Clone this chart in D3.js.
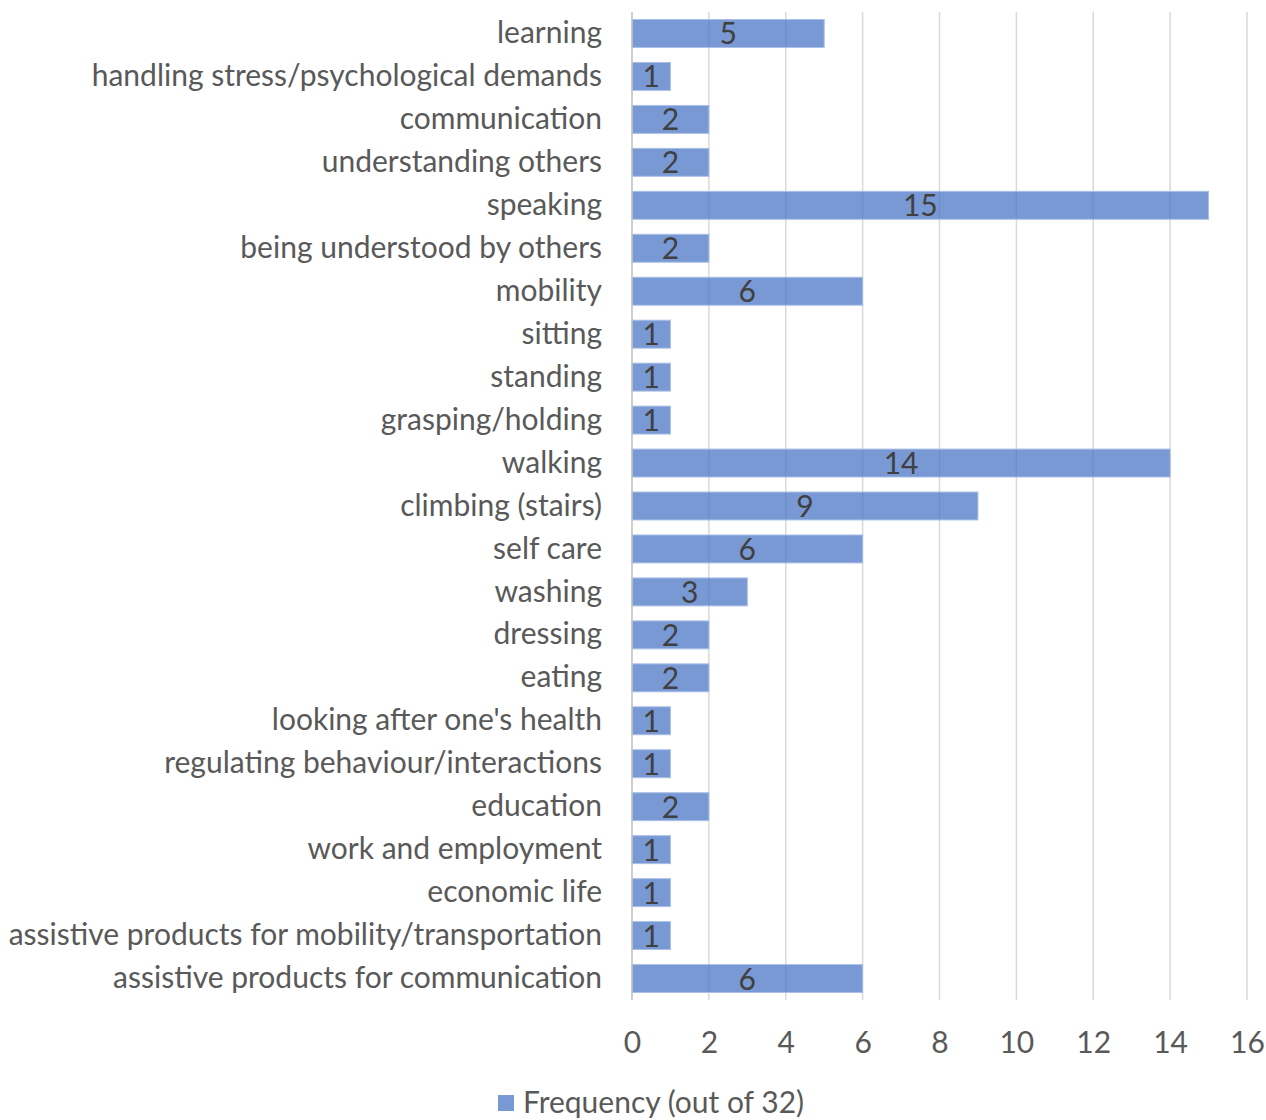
<!DOCTYPE html>
<html>
<head>
<meta charset="utf-8">
<script src="https://cdn.jsdelivr.net/npm/d3@7"></script>
<style>
  body { margin: 0; background: #fff; }
  text { font-family: Lato, "Open Sans", sans-serif; }
</style>
</head>
<body>
<script>
var categories = ["learning", "handling stress/psychological demands", "communication",
  "understanding others", "speaking", "being understood by others", "mobility", "sitting",
  "standing", "grasping/holding", "walking", "climbing (stairs)", "self care", "washing",
  "dressing", "eating", "looking after one's health", "regulating behaviour/interactions",
  "education", "work and employment", "economic life",
  "assistive products for mobility/transportation", "assistive products for communication"];
var frequency = [5, 1, 2, 2, 15, 2, 6, 1, 1, 1, 14, 9, 6, 3, 2, 2, 1, 1, 2, 1, 1, 1, 6];
var xTicks = [0, 2, 4, 6, 8, 10, 12, 14, 16];
var seriesName = "Frequency (out of 32)";

var width = 1266, height = 1120;
var plotLeft = 632, plotRight = 1247, plotTop = 12, plotBottom = 1000;
var fontSize = "30px";

var svg = d3.select("body").append("svg")
    .attr("width", width)
    .attr("height", height);

var x = d3.scaleLinear().domain([0, 16]).range([plotLeft, plotRight]);
var y = d3.scaleBand().domain(categories).range([plotTop, plotBottom]).paddingInner(0.35).paddingOuter(0.175);

// gridlines
svg.append("g").selectAll("line").data(xTicks.slice(1)).enter().append("line")
  .attr("x1", function(d){ return x(d); })
  .attr("x2", function(d){ return x(d); })
  .attr("y1", plotTop).attr("y2", plotBottom)
  .style("stroke", "#d9d9d9").style("stroke-width", 1.5);

// bars
svg.append("g").selectAll("rect").data(frequency).enter().append("rect")
  .attr("x", x(0))
  .attr("y", function(d, i){ return y(categories[i]); })
  .attr("width", function(d){ return x(d) - x(0); })
  .attr("height", y.bandwidth())
  .style("fill", "#4472c4").style("fill-opacity", 0.72)
  .style("stroke", "#a9bfe6").style("stroke-width", 1);

// axis line
svg.append("line")
  .attr("x1", x(0)).attr("x2", x(0))
  .attr("y1", plotTop).attr("y2", plotBottom)
  .style("stroke", "#bfbfbf").style("stroke-width", 1.5);

// value labels
svg.append("g").selectAll("text").data(frequency).enter().append("text")
  .attr("x", function(d){ return (x(0) + x(d)) / 2; })
  .attr("y", function(d, i){ return y(categories[i]) + y.bandwidth() / 2 + 11; })
  .attr("text-anchor", "middle")
  .style("font-size", fontSize).style("fill", "#404040")
  .text(function(d){ return d; });

// category labels
var yAxis = svg.append("g")
  .attr("transform", "translate(" + (plotLeft - 30) + ",0)")
  .call(d3.axisLeft(y).tickSize(0).tickPadding(0));
yAxis.select(".domain").remove();
yAxis.selectAll("text")
  .attr("dy", "0.32em")
  .style("font-size", fontSize).style("fill", "#595959")
  .style("font-family", "Lato, 'Open Sans', sans-serif");

// x tick labels
var xAxis = svg.append("g")
  .attr("transform", "translate(0," + (plotBottom + 27) + ")")
  .call(d3.axisBottom(x).tickValues(xTicks).tickSize(0).tickPadding(0));
xAxis.select(".domain").remove();
xAxis.selectAll("text")
  .attr("dy", "0.85em")
  .style("font-size", fontSize).style("fill", "#595959")
  .style("font-family", "Lato, 'Open Sans', sans-serif");

// legend
var legend = svg.append("g").attr("transform", "translate(498,1095)");
legend.append("rect").attr("width", 16).attr("height", 16)
  .style("fill", "#4472c4").style("fill-opacity", 0.72);
legend.append("text").attr("x", 25).attr("y", 18)
  .style("font-size", fontSize).style("fill", "#595959")
  .text(seriesName);
</script>
</body>
</html>
